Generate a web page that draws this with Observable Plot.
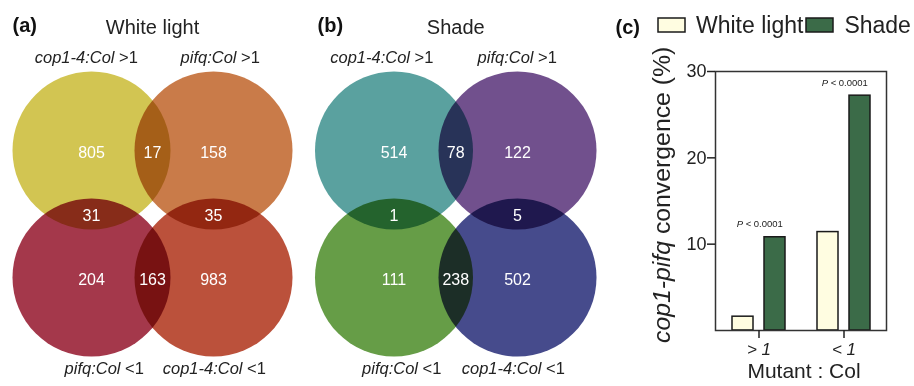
<!DOCTYPE html>
<html>
<head>
<meta charset="utf-8">
<script src="https://cdn.jsdelivr.net/npm/d3@7"></script>
<script src="https://cdn.jsdelivr.net/npm/@observablehq/plot@0.6"></script>
<style>
html, body { margin: 0; padding: 0; background: #fff; }
#fig { position: relative; width: 914px; height: 386px; overflow: hidden; font-family: "Liberation Sans", Arial, sans-serif; color: #222; }
#fig .panel { position: absolute; top: 0; }
#fig .panel svg { display: block; }
.venn circle { mix-blend-mode: multiply; }
#legend { position: absolute; left: 658px; top: 12px; width: 270px; }
#legend > div { font-family: "Liberation Sans", Arial, sans-serif !important; font-size: 23px !important; line-height: 26px; margin: 0 !important; min-height: 0 !important; color: #222; display: flex; flex-wrap: nowrap !important; white-space: nowrap; align-items: center; }
#legend span { margin-right: 3px !important; display: inline-flex; align-items: center; white-space: nowrap; }
#legend span > svg { margin-right: 11px !important; overflow: visible; flex: none; }
#legend rect { stroke: #1a1a1a; stroke-width: 1.5px; }
#bars [aria-label="x-axis tick label"] { font-style: italic; }
</style>
</head>
<body>
<div id="fig"></div>
<script>
// ---------------- data ----------------
// Venn diagrams: circles TL, TR, BL, BR
const circleKeys = ["TL", "TR", "BL", "BR"];
const setMutants = ["cop1-4:Col", "pifq:Col", "pifq:Col", "cop1-4:Col"];
const setRatios = [">1", ">1", "<1", "<1"];
// regions: sets each region belongs to
const regionKeys = [["TL"], ["TL", "TR"], ["TR"], ["TL", "BL"], ["TR", "BR"], ["BL"], ["BL", "BR"], ["BR"]];
const whiteCounts = [805, 17, 158, 31, 35, 204, 163, 983];
const shadeCounts = [514, 78, 122, 1, 5, 111, 238, 502];
const whiteColors = ["#d2c552", "#c97b49", "#a4384b", "#bb513b"];
const shadeColors = ["#5aa19f", "#71508d", "#669d47", "#464b8c"];

// Bar chart
const groups = ["> 1", "< 1"];
const seriesNames = ["White light", "Shade"];
const whiteLight = [1.6, 11.4];
const shade = [10.8, 27.2];
const yTicks = [10, 20, 30];
const pSymbol = "P";
const pText = "< 0.0001";
const whiteFill = "#fffde1";
const shadeFill = "#3b6b48";

const FONT = '"Liberation Sans", Arial, sans-serif';
const fig = document.getElementById("fig");

function place(node, left, id) {
  const wrap = document.createElement("div");
  wrap.className = "panel";
  wrap.style.left = left + "px";
  if (id) wrap.id = id;
  wrap.appendChild(node);
  fig.appendChild(wrap);
  return wrap;
}

function venn({counts, colors, title, tag, xRange, tagDx, dxTop, dxBottom}) {
  const circles = circleKeys.map((k, i) => ({
    key: k, col: k[1] === "R" ? 1 : 0, row: k[0] === "B" ? 1 : 0,
    color: colors[i], mutant: setMutants[i], ratio: setRatios[i]
  }));
  const pos = Object.fromEntries(circles.map(c => [c.key, c]));
  const regions = regionKeys.map((ks, i) => ({
    count: counts[i],
    col: d3.mean(ks, k => pos[k].col),
    row: d3.mean(ks, k => pos[k].row)
  }));
  const top = circles.filter(c => c.row === 0);
  const bottom = circles.filter(c => c.row === 1);
  const labels = (data, anchor, dy, dx) => [
    Plot.text(data, {x: "col", frameAnchor: anchor, lineAnchor: "middle", dy, dx, text: "mutant", textAnchor: "end", fontStyle: "italic", fontSize: 16.5, fill: "#222"}),
    Plot.text(data, {x: "col", frameAnchor: anchor, lineAnchor: "middle", dy, dx, text: d => "\u00a0" + d.ratio, textAnchor: "start", fontSize: 16.5, fill: "#222"})
  ];
  return Plot.plot({
    width: 300, height: 386, margin: 0,
    x: {domain: [0, 1], range: xRange, axis: null},
    y: {domain: [0, 1], range: [150, 277], axis: null},
    style: {fontFamily: FONT, background: "transparent", color: "#222", overflow: "visible"},
    marks: [
      ...circles.map(c => Plot.dot([c], {x: "col", y: "row", r: 79, fill: c.color, stroke: null, mixBlendMode: "multiply"})),
      Plot.text(regions, {x: "col", y: "row", text: "count", fill: "white", fontSize: 16, dy: 2}),
      ...labels(top, "top", 57.5, dxTop),
      ...labels(bottom, "bottom", -18, dxBottom),
      Plot.text([title], {x: () => 0.5, frameAnchor: "top", lineAnchor: "middle", dy: 27, text: d => d, fontSize: 20, fill: "#222"}),
      Plot.text([tag], {frameAnchor: "top-left", lineAnchor: "middle", dx: tagDx, dy: 25, text: d => d, textAnchor: "start", fontWeight: "bold", fontSize: 20, fill: "#111"})
    ]
  });
}

const vennA = venn({counts: whiteCounts, colors: whiteColors, title: "White light", tag: "(a)", xRange: [91, 213], tagDx: 12, dxTop: 23, dxBottom: 29});
vennA.classList.add("venn");
place(vennA, 0);

const vennB = venn({counts: shadeCounts, colors: shadeColors, title: "Shade", tag: "(b)", xRange: [93.5, 217], tagDx: 17, dxTop: 16, dxBottom: 24});
vennB.classList.add("venn");
place(vennB, 300);

// ---------------- bar chart ----------------
const barData = groups.map((g, i) => ({group: g, white: whiteLight[i], shade: shade[i]}));
const bars = Plot.plot({
  width: 314, height: 386,
  marginLeft: 115, marginRight: 28, marginTop: 71, marginBottom: 56,
  x: {domain: groups, padding: 0},
  y: {domain: [0, 30]},
  style: {fontFamily: FONT, background: "transparent", color: "#222", overflow: "visible"},
  marks: [
    Plot.barY(barData, {x: "group", y: "white", fill: whiteFill, stroke: "#1a1a1a", strokeWidth: 1.5, insetLeft: 16, insetRight: 48}),
    Plot.barY(barData, {x: "group", y: "shade", fill: shadeFill, stroke: "#1a1a1a", strokeWidth: 1.5, insetLeft: 48, insetRight: 16}),
    Plot.frame({stroke: "#333", strokeWidth: 1.5}),
    Plot.axisY({ticks: yTicks, tickSize: 8, tickPadding: 1, fontSize: 18, label: null, strokeWidth: 1.5}),
    Plot.axisX({tickSize: 8, tickPadding: 4, fontSize: 17, label: null, strokeWidth: 1.5, fontStyle: "italic"}),
    Plot.text(barData, {x: "group", y: "shade", text: () => pSymbol, fontStyle: "italic", textAnchor: "end", dx: -16, dy: -13, fontSize: 9.5}),
    Plot.text(barData, {x: "group", y: "shade", text: () => "\u00a0" + pText, textAnchor: "start", dx: -16, dy: -13, fontSize: 9.5}),
    Plot.text(["cop1-pifq"], {frameAnchor: "left", lineAnchor: "middle", rotate: -90, textAnchor: "end", dx: -53, dy: 40, fontStyle: "italic", fontSize: 24.8, text: d => d}),
    Plot.text(["\u00a0convergence (%)"], {frameAnchor: "left", lineAnchor: "middle", rotate: -90, textAnchor: "start", dx: -53, dy: 40, fontSize: 24.8, text: d => d}),
    Plot.text(["Mutant : Col"], {frameAnchor: "bottom", lineAnchor: "middle", dy: 41, dx: 3, fontSize: 21, text: d => d}),
    Plot.text(["(c)"], {frameAnchor: "top-left", lineAnchor: "middle", textAnchor: "start", dx: -100, dy: -44, fontWeight: "bold", fontSize: 20, fill: "#111", text: d => d})
  ]
});
place(bars, 600, "bars");

// legend
const legend = Plot.legend({
  color: {type: "ordinal", domain: seriesNames, range: [whiteFill, shadeFill]},
  legend: "swatches", swatchWidth: 27, swatchHeight: 14, className: "lg"
});
const lg = document.createElement("div");
lg.id = "legend";
lg.appendChild(legend);
fig.appendChild(lg);
</script>
</body>
</html>
